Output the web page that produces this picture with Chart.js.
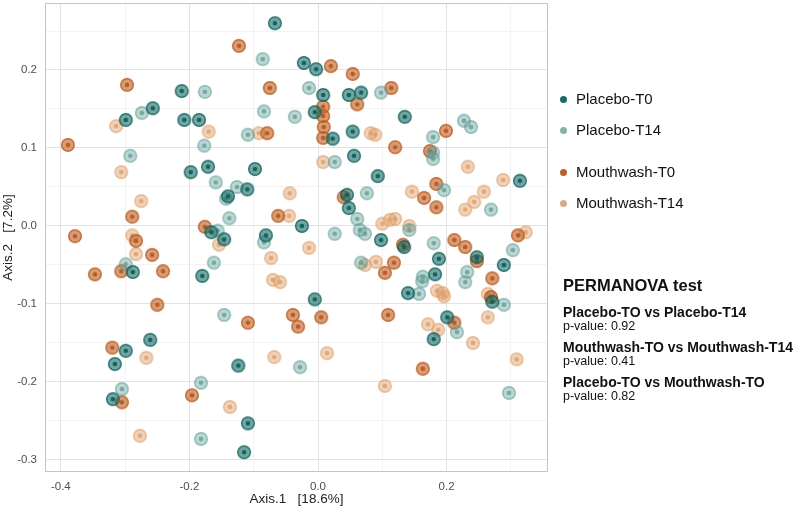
<!DOCTYPE html>
<html>
<head>
<meta charset="utf-8">
<style>
  body { margin: 0; background: #fff; font-family: "Liberation Sans", Arial, sans-serif; }
  #wrap { position: relative; width: 800px; height: 510px; }
  #key { position: absolute; left: 556px; top: 91px; }
  .key-item { position: relative; height: 16px; line-height: 16px; font-size: 15px; color: #111; padding-left: 20px; margin-bottom: 15px; }
  .key-item.gap { margin-bottom: 26px; }
  .key-item .dot { position: absolute; left: 3.5px; top: 4.5px; width: 7px; height: 7px; border-radius: 50%; }
  #stats { position: absolute; left: 563px; top: 274px; color: #111; }
  #stats .title { font-size: 16.5px; font-weight: bold; line-height: 22px; margin-bottom: 9px; }
  #stats .cmp { font-size: 14px; font-weight: bold; line-height: 15px; }
  #stats .pv { font-size: 12.5px; line-height: 12px; margin-bottom: 8px; }
</style>
<script src="https://cdn.jsdelivr.net/npm/chart.js"></script>
</head>
<body>
<div id="wrap">
  <canvas id="pcoa" width="800" height="510"></canvas>
  <div id="key"></div>
  <div id="stats"></div>
</div>
<script>
  // PCoA coordinates
  const placeboT0X = [-0.067,-0.022,-0.003,-0.212,-0.257,-0.299,-0.208,-0.185,-0.198,-0.171,-0.098,-0.110,-0.140,-0.166,-0.146,-0.081,-0.025,0.008,0.048,0.067,-0.005,0.023,0.135,0.054,0.056,0.093,0.314,0.045,0.048,0.098,0.134,0.188,0.182,0.247,0.289,0.140,0.271,-0.005,0.201,0.180,-0.180,-0.288,-0.261,-0.299,-0.316,-0.124,-0.319,-0.109,-0.115];
  const placeboT0Y = [0.260,0.209,0.201,0.173,0.151,0.136,0.136,0.136,0.069,0.076,0.073,0.047,0.038,-0.008,-0.017,-0.012,0.000,0.168,0.168,0.171,0.146,0.112,0.140,0.121,0.090,0.064,0.058,0.040,0.023,-0.018,-0.027,-0.042,-0.062,-0.040,-0.050,-0.086,-0.097,-0.094,-0.117,-0.145,-0.064,-0.059,-0.146,-0.160,-0.177,-0.179,-0.222,-0.253,-0.290];

  const placeboT14X = [-0.086,-0.176,-0.274,-0.084,-0.036,-0.109,-0.177,-0.292,-0.159,-0.126,-0.143,-0.138,-0.156,-0.084,-0.014,0.098,0.227,0.238,0.179,0.179,0.179,0.026,0.196,0.269,0.076,0.061,0.065,0.073,0.026,0.142,0.180,0.303,0.067,0.163,0.162,0.232,0.229,0.157,0.289,0.216,-0.028,0.297,-0.299,-0.162,-0.146,-0.305,-0.182,-0.182];
  const placeboT14Y = [0.214,0.172,0.145,0.147,0.140,0.117,0.103,0.090,0.056,0.050,0.035,0.010,-0.006,-0.021,0.177,0.171,0.135,0.127,0.114,0.094,0.086,0.082,0.046,0.021,0.042,0.009,-0.005,-0.010,-0.010,-0.005,-0.022,-0.031,-0.047,-0.065,-0.071,-0.059,-0.072,-0.087,-0.101,-0.136,-0.181,-0.214,-0.049,-0.047,-0.114,-0.209,-0.201,-0.273];

  const mouthwashT0X = [-0.123,-0.297,-0.075,-0.079,-0.389,-0.289,-0.062,-0.378,-0.283,-0.176,0.020,0.054,0.114,0.008,0.008,0.009,0.008,0.061,0.120,0.199,0.174,0.184,0.165,0.184,0.040,0.212,0.229,0.311,0.132,0.118,0.104,0.247,0.271,0.269,-0.039,-0.031,0.005,0.109,0.212,0.163,-0.347,-0.306,-0.258,-0.241,-0.250,-0.109,-0.320,-0.305,-0.196];
  const mouthwashT0Y = [0.231,0.181,0.177,0.119,0.104,0.012,0.013,-0.013,-0.019,-0.001,0.205,0.195,0.177,0.153,0.141,0.127,0.113,0.156,0.101,0.122,0.096,0.054,0.036,0.024,0.037,-0.018,-0.027,-0.012,-0.024,-0.047,-0.060,-0.045,-0.067,-0.091,-0.114,-0.129,-0.117,-0.114,-0.124,-0.183,-0.062,-0.058,-0.037,-0.058,-0.101,-0.124,-0.156,-0.226,-0.217];

  const mouthwashT14X = [-0.314,-0.170,-0.092,-0.306,-0.275,-0.044,-0.045,-0.289,-0.154,0.082,0.089,0.008,0.233,0.288,0.146,0.258,0.243,0.229,-0.014,0.100,0.112,0.120,0.142,0.323,-0.073,0.073,0.090,-0.070,-0.059,0.185,0.194,0.196,0.264,0.264,0.171,0.187,0.241,-0.068,0.014,0.309,0.104,-0.283,-0.267,-0.137,-0.277];
  const mouthwashT14Y = [0.128,0.121,0.119,0.069,0.032,0.042,0.013,-0.012,-0.024,0.119,0.117,0.082,0.076,0.059,0.044,0.044,0.031,0.021,-0.028,0.003,0.008,0.009,0.000,-0.008,-0.041,-0.050,-0.046,-0.069,-0.072,-0.083,-0.086,-0.090,-0.087,-0.117,-0.126,-0.133,-0.150,-0.168,-0.163,-0.171,-0.205,-0.036,-0.169,-0.232,-0.269];

  const groupNames = ["Placebo-T0", "Placebo-T14", "Mouthwash-T0", "Mouthwash-T14"];
  const comparisons = ["Placebo-TO vs Placebo-T14", "Mouthwash-TO vs Mouthwash-T14", "Placebo-TO vs Mouthwash-TO"];
  const pValues = ["0.92", "0.41", "0.82"];

  const xTitle = "Axis.1   [18.6%]";
  const yTitle = "Axis.2   [7.2%]";
  const xRange = [-0.4246, 0.3577];
  const yRange = [-0.3154, 0.2859];

  // look of each group: rgb, fill alpha, ring alpha, centre alpha, legend colour
  const looks = [
    { rgb: "16,100,96",   fill: 0.58, ring: 0.88, dot: 1.0,  key: "#1b6a66" },
    { rgb: "96,158,150",  fill: 0.42, ring: 0.64, dot: 0.8,  key: "#86b2ab" },
    { rgb: "188,92,32",   fill: 0.6,  ring: 0.88, dot: 1.0,  key: "#b8612f" },
    { rgb: "222,160,108", fill: 0.48, ring: 0.68, dot: 0.85, key: "#d8ad85" }
  ];

  function marker(look) {
    const c = document.createElement("canvas");
    c.width = 16; c.height = 16;
    const g = c.getContext("2d");
    g.beginPath();
    g.arc(8, 8, 6.3, 0, Math.PI * 2);
    g.fillStyle = `rgba(${look.rgb},${look.fill})`;
    g.fill();
    g.lineWidth = 1.4;
    g.strokeStyle = `rgba(${look.rgb},${look.ring})`;
    g.stroke();
    g.beginPath();
    g.arc(8, 8, 2.3, 0, Math.PI * 2);
    g.fillStyle = `rgba(${look.rgb},${look.dot})`;
    g.fill();
    return c;
  }

  const xs = [placeboT0X, placeboT14X, mouthwashT0X, mouthwashT14X];
  const ys = [placeboT0Y, placeboT14Y, mouthwashT0Y, mouthwashT14Y];

  const datasets = groupNames.map((name, i) => ({
    label: name,
    data: xs[i].map((x, k) => ({ x, y: ys[i][k] })),
    pointStyle: marker(looks[i]),
    pointRadius: 7,
    pointHoverRadius: 7
  }));

  const isMult = (v, step) => Math.abs(v / step - Math.round(v / step)) < 1e-6;
  const majorGrid = "#e2e2e2";
  const minorGrid = "#f0f0f0";

  const panelBorder = {
    id: "panelBorder",
    afterDraw(chart) {
      const { ctx, chartArea: a } = chart;
      ctx.save();
      ctx.strokeStyle = "#c4c4c4";
      ctx.lineWidth = 1;
      ctx.strokeRect(a.left + 0.5, a.top + 0.5, a.width - 1, a.height - 1);
      ctx.restore();
    }
  };

  Chart.defaults.font.family = '"Liberation Sans", Arial, sans-serif';

  new Chart(document.getElementById("pcoa"), {
    type: "scatter",
    data: { datasets },
    options: {
      responsive: false,
      animation: false,
      layout: { autoPadding: false, padding: { top: 3, right: 252, left: 0, bottom: 0 } },
      plugins: { legend: { display: false }, tooltip: { enabled: false } },
      scales: {
        x: {
          type: "linear",
          min: xRange[0],
          max: xRange[1],
          afterFit: (s) => { s.height = 38; s.paddingLeft = 0; s.paddingRight = 0; },
          ticks: {
            stepSize: 0.1,
            includeBounds: false,
            autoSkip: false,
            maxTicksLimit: 40,
            maxRotation: 0,
            padding: 8,
            color: "#4d4d4d",
            font: { size: 11.5 },
            callback: (v) => (isMult(v, 0.2) ? v.toFixed(1) : "")
          },
          grid: {
            drawTicks: false,
            color: (c) => (isMult(c.tick.value, 0.2) ? majorGrid : minorGrid),
            lineWidth: (c) => (isMult(c.tick.value, 0.2) ? 1 : 0.8)
          },
          border: { display: false },
          title: { display: true, text: xTitle, color: "#222", font: { size: 13.5 }, padding: { top: 0, bottom: 3 } }
        },
        y: {
          type: "linear",
          min: yRange[0],
          max: yRange[1],
          afterFit: (s) => { s.width = 45; s.paddingTop = 0; s.paddingBottom = 0; },
          ticks: {
            stepSize: 0.05,
            includeBounds: false,
            autoSkip: false,
            maxTicksLimit: 40,
            padding: 8,
            color: "#4d4d4d",
            font: { size: 11.5 },
            callback: (v) => (isMult(v, 0.1) ? v.toFixed(1) : "")
          },
          grid: {
            drawTicks: false,
            color: (c) => (isMult(c.tick.value, 0.1) ? majorGrid : minorGrid),
            lineWidth: (c) => (isMult(c.tick.value, 0.1) ? 1 : 0.8)
          },
          border: { display: false },
          title: { display: true, text: yTitle, color: "#222", font: { size: 13.5 }, padding: { top: 0, bottom: 0 } }
        }
      }
    },
    plugins: [panelBorder]
  });

  // legend and PERMANOVA panel
  const key = document.getElementById("key");
  groupNames.forEach((name, i) => {
    const item = document.createElement("div");
    item.className = "key-item" + (i === 1 ? " gap" : "");
    item.innerHTML = `<span class="dot" style="background:${looks[i].key}"></span>${name}`;
    key.appendChild(item);
  });

  const stats = document.getElementById("stats");
  stats.innerHTML = '<div class="title">PERMANOVA test</div>' +
    comparisons.map((c, i) => `<div class="cmp">${c}</div><div class="pv">p-value: ${pValues[i]}</div>`).join("");
</script>
</body>
</html>
